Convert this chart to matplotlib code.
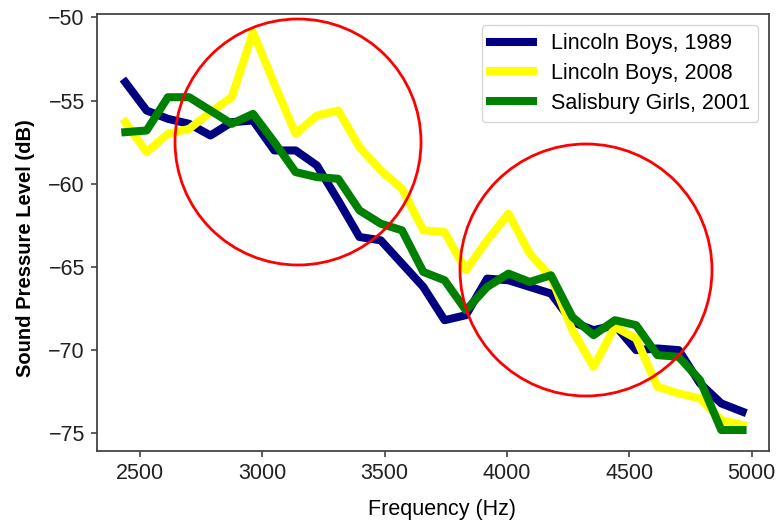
import matplotlib
matplotlib.use("Agg")
import matplotlib.pyplot as plt
from matplotlib.patches import Ellipse

plt.rcParams["font.family"] = ["Liberation Sans", "DejaVu Sans"]

# Spectrum bins (Hz)
freqs = [2440, 2527, 2614, 2701, 2788, 2875, 2962, 3049, 3136, 3223,
         3310, 3397, 3484, 3571, 3658, 3745, 3832, 3919, 4006, 4093,
         4180, 4267, 4354, 4441, 4528, 4615, 4702, 4789, 4876, 4963]

# Sound pressure level per bin (dB)
lincoln_1989 = [-53.9, -55.6, -56.1, -56.4, -57.1, -56.3, -56.2, -58.0, -58.0, -58.9,
                -61.0, -63.2, -63.4, -64.8, -66.2, -68.2, -67.9, -65.7, -65.8, -66.2,
                -66.6, -68.3, -68.8, -68.5, -70.0, -69.9, -70.0, -72.0, -73.2, -73.7]
lincoln_2008 = [-56.3, -58.1, -57.0, -56.7, -55.7, -54.8, -50.9, -54.0, -57.0, -55.9,
                -55.6, -57.8, -59.2, -60.3, -62.8, -62.9, -65.2, -63.4, -61.8, -64.2,
                -65.6, -68.8, -71.0, -68.6, -69.3, -72.2, -72.6, -72.9, -74.2, -74.5]
salisbury_2001 = [-56.9, -56.8, -54.8, -54.8, -55.6, -56.4, -55.8, -57.5, -59.3, -59.6,
                  -59.7, -61.6, -62.4, -62.8, -65.3, -65.8, -67.6, -66.2, -65.4, -65.9,
                  -65.5, -68.0, -69.1, -68.2, -68.5, -70.3, -70.4, -71.8, -74.8, -74.8]

series = [
    ("Lincoln Boys, 1989", lincoln_1989, "navy"),
    ("Lincoln Boys, 2008", lincoln_2008, "yellow"),
    ("Salisbury Girls, 2001", salisbury_2001, "green"),
]

W, H = 777, 526
fig = plt.figure(figsize=(W / 100, H / 100), dpi=100)
ax = fig.add_axes([96.7 / W, 1 - 451 / H, (769 - 96.7) / W, (451 - 14) / H])

for label, vals, color in series:
    ax.plot(freqs, vals, color=color, linewidth=5.8, label=label)

ax.set_xlim(2323, 5071)
ax.set_ylim(-76.06, -49.8)
ax.set_xticks([2500, 3000, 3500, 4000, 4500, 5000])
ax.set_yticks([-50, -55, -60, -65, -70, -75])
ax.tick_params(labelsize=15.5, colors="#333333", length=4.5, width=1.1,
               labelcolor="#222222", pad=4)
for sp in ax.spines.values():
    sp.set_linewidth(1.3)
    sp.set_color("#444444")

ax.set_xlabel("Frequency (Hz)", fontsize=15.5)
ax.xaxis.set_label_coords((442.5 - 96.7) / 672.3, -(499 - 451) / 437)
ax.set_ylabel("Sound Pressure Level (dB)", fontsize=14.5, fontweight="bold")
ax.yaxis.set_label_coords(-(96.7 - 35) / 672.3, (451 - 248) / 437)

leg = ax.legend(loc="upper right", fontsize=15.5, handlelength=2.0,
                borderaxespad=0.5, framealpha=0.8, fancybox=True,
                labelspacing=0.4)

# highlight circles (in pixel space so they stay round)
for cx, cy, r in [(298, 142, 123), (586, 270, 126)]:
    fig.patches.append(Ellipse((cx / W, 1 - cy / H), 2 * r / W, 2 * r / H,
                               transform=fig.transFigure, fill=False,
                               edgecolor="red", linewidth=2))

fig.savefig("out.png", dpi=100)
